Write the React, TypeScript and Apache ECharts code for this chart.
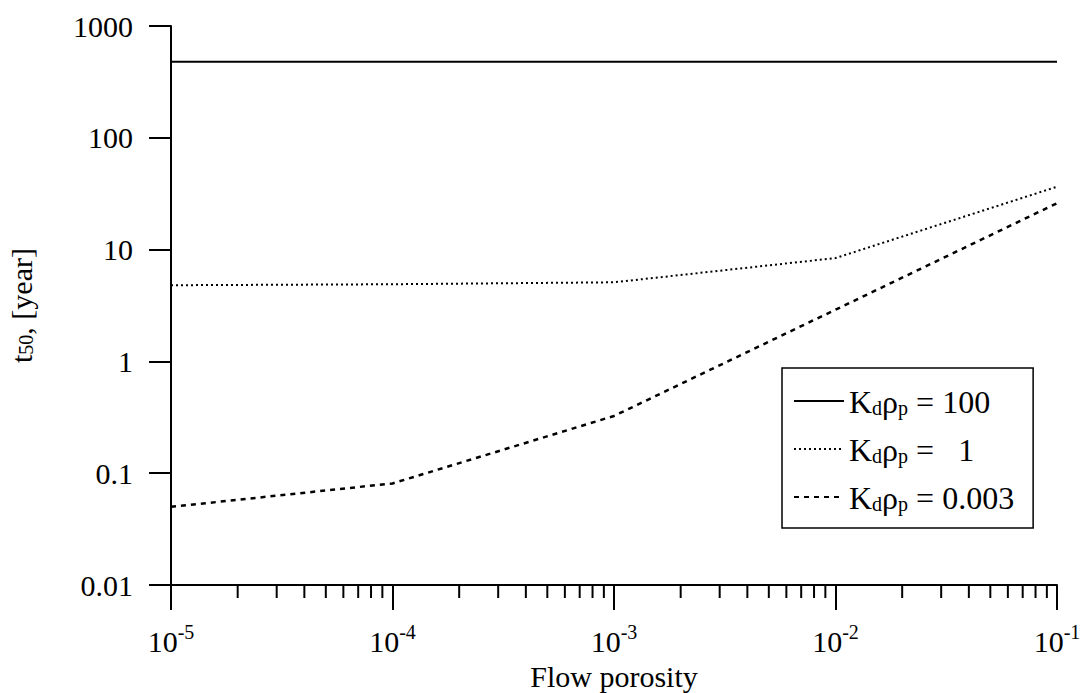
import React, { useEffect, useRef } from "react";
import * as echarts from "echarts";

const porosity = [1e-5, 1e-4, 1e-3, 1e-2, 1e-1];
const kd100 = [480, 480, 480, 480, 480];
const kd1 = [4.8, 4.9, 5.1, 8.4, 36.5];
const kd0003 = [0.05, 0.081, 0.325, 2.9, 26];
const seriesNames = ["Kd100", "Kd1", "Kd0003"];
const legendLabels = ["= 100", "=   1", "= 0.003"];
const yTicks = [0.01, 0.1, 1, 10, 100, 1000];
const minorTicks = [
  2e-5, 3e-5, 4e-5, 5e-5, 6e-5, 7e-5, 8e-5, 9e-5,
  2e-4, 3e-4, 4e-4, 5e-4, 6e-4, 7e-4, 8e-4, 9e-4,
  2e-3, 3e-3, 4e-3, 5e-3, 6e-3, 7e-3, 8e-3, 9e-3,
  2e-2, 3e-2, 4e-2, 5e-2, 6e-2, 7e-2, 8e-2, 9e-2,
];

const FONT = "Liberation Serif";

export default function App() {
  const ref = useRef<HTMLDivElement>(null);
  useEffect(() => {
    if (!ref.current) return;
    const chart = echarts.init(ref.current, null, { renderer: "svg" });
    const pair = (ys: number[]) => porosity.map((x, i) => [x, ys[i]]);
    const option: any = {
      animation: false,
      backgroundColor: "#fff",
      textStyle: { fontFamily: FONT, color: "#000" },
      grid: {
        left: 171,
        right: 27,
        top: 26,
        bottom: 108,
        containLabel: false,
        outerBoundsMode: "none",
      },
      legend: {
        data: seriesNames,
        orient: "vertical",
        left: 782,
        top: 368,
        padding: [18, 19, 14, 11],
        itemGap: 16,
        itemWidth: 50,
        itemHeight: 14,
        borderColor: "#000",
        borderWidth: 1.5,
        backgroundColor: "#fff",
        itemStyle: { opacity: 0 },
        formatter: (name: string) => {
          const i = seriesNames.indexOf(name);
          return `{k|K}{s|d}{k|ρ}{s|p}{k| ${legendLabels[i]}}`;
        },
        textStyle: {
          fontFamily: FONT,
          color: "#000",
          rich: {
            k: { fontFamily: FONT, fontSize: 32, lineHeight: 34, verticalAlign: "bottom", color: "#000" },
            s: { fontFamily: FONT, fontSize: 20, lineHeight: 14, verticalAlign: "bottom", color: "#000" },
          },
        },
      },
      xAxis: {
        type: "log",
        logBase: 10,
        min: 1e-5,
        max: 1e-1,
        name: "Flow porosity",
        nameLocation: "middle",
        nameGap: 72,
        nameTextStyle: { fontFamily: FONT, fontSize: 30, lineHeight: 32, color: "#000" },
        axisLine: { show: true, onZero: false, lineStyle: { color: "#000", width: 2 } },
        axisTick: { show: true, inside: false, length: 25, lineStyle: { color: "#000", width: 2 } },
        splitLine: { show: false },
        axisLabel: {
          margin: 37,
          formatter: (v: number) => {
            const e = Math.round(Math.log10(v));
            return `{b|10}{s|${e}}`;
          },
          rich: {
            b: { fontFamily: FONT, fontSize: 30, lineHeight: 34, verticalAlign: "bottom", color: "#000" },
            s: { fontFamily: FONT, fontSize: 20, lineHeight: 18, verticalAlign: "top", color: "#000" },
          },
        },
      },
      yAxis: {
        type: "log",
        logBase: 10,
        min: 0.01,
        max: 1000,
        name: "{a|t}{b|50}{a|, [year]}",
        nameLocation: "middle",
        nameGap: 135,
        nameRotate: 90,
        nameTextStyle: {
          rich: {
            a: { fontFamily: FONT, fontSize: 30, lineHeight: 34, verticalAlign: "bottom", color: "#000" },
            b: { fontFamily: FONT, fontSize: 20, lineHeight: 12, verticalAlign: "bottom", color: "#000" },
          },
        },
        axisLine: { show: true, lineStyle: { color: "#000", width: 2 } },
        axisTick: { show: true, inside: false, length: 22, lineStyle: { color: "#000", width: 2 } },
        splitLine: { show: false },
        axisLabel: {
          margin: 38,
          fontFamily: FONT,
          fontSize: 30,
          color: "#000",
          formatter: (v: number) => {
            const m = yTicks.find((t) => Math.abs(Math.log10(t) - Math.log10(v)) < 1e-6);
            return m !== undefined ? String(m) : "";
          },
        },
      },
      series: [
        {
          name: seriesNames[0],
          type: "line",
          data: pair(kd100),
          symbol: "none",
          lineStyle: { color: "#000", width: 2, type: "solid" },
          itemStyle: { color: "#000" },
        },
        {
          name: seriesNames[1],
          type: "line",
          data: pair(kd1),
          symbol: "none",
          lineStyle: { color: "#000", width: 2, type: [2, 3] },
          itemStyle: { color: "#000" },
        },
        {
          name: seriesNames[2],
          type: "line",
          data: pair(kd0003),
          symbol: "none",
          lineStyle: { color: "#000", width: 2.5, type: [5, 5] },
          itemStyle: { color: "#000" },
        },
        {
          name: "minorTicks",
          type: "custom",
          clip: false,
          silent: true,
          data: minorTicks.map((v) => [v, 0.01]),
          encode: { x: 0, y: 1 },
          renderItem: (params: any, api: any) => {
            const p = api.coord([api.value(0), 0.01]);
            return {
              type: "line",
              shape: { x1: p[0], y1: p[1], x2: p[0], y2: p[1] + 13 },
              style: { stroke: "#000", lineWidth: 2 },
            };
          },
        },
      ],
    };
    chart.setOption(option);
    return () => chart.dispose();
  }, []);
  return (
    <div
      ref={ref}
      style={{ position: "fixed", left: 0, top: 0, width: 1084, height: 693, background: "#fff" }}
    />
  );
}
